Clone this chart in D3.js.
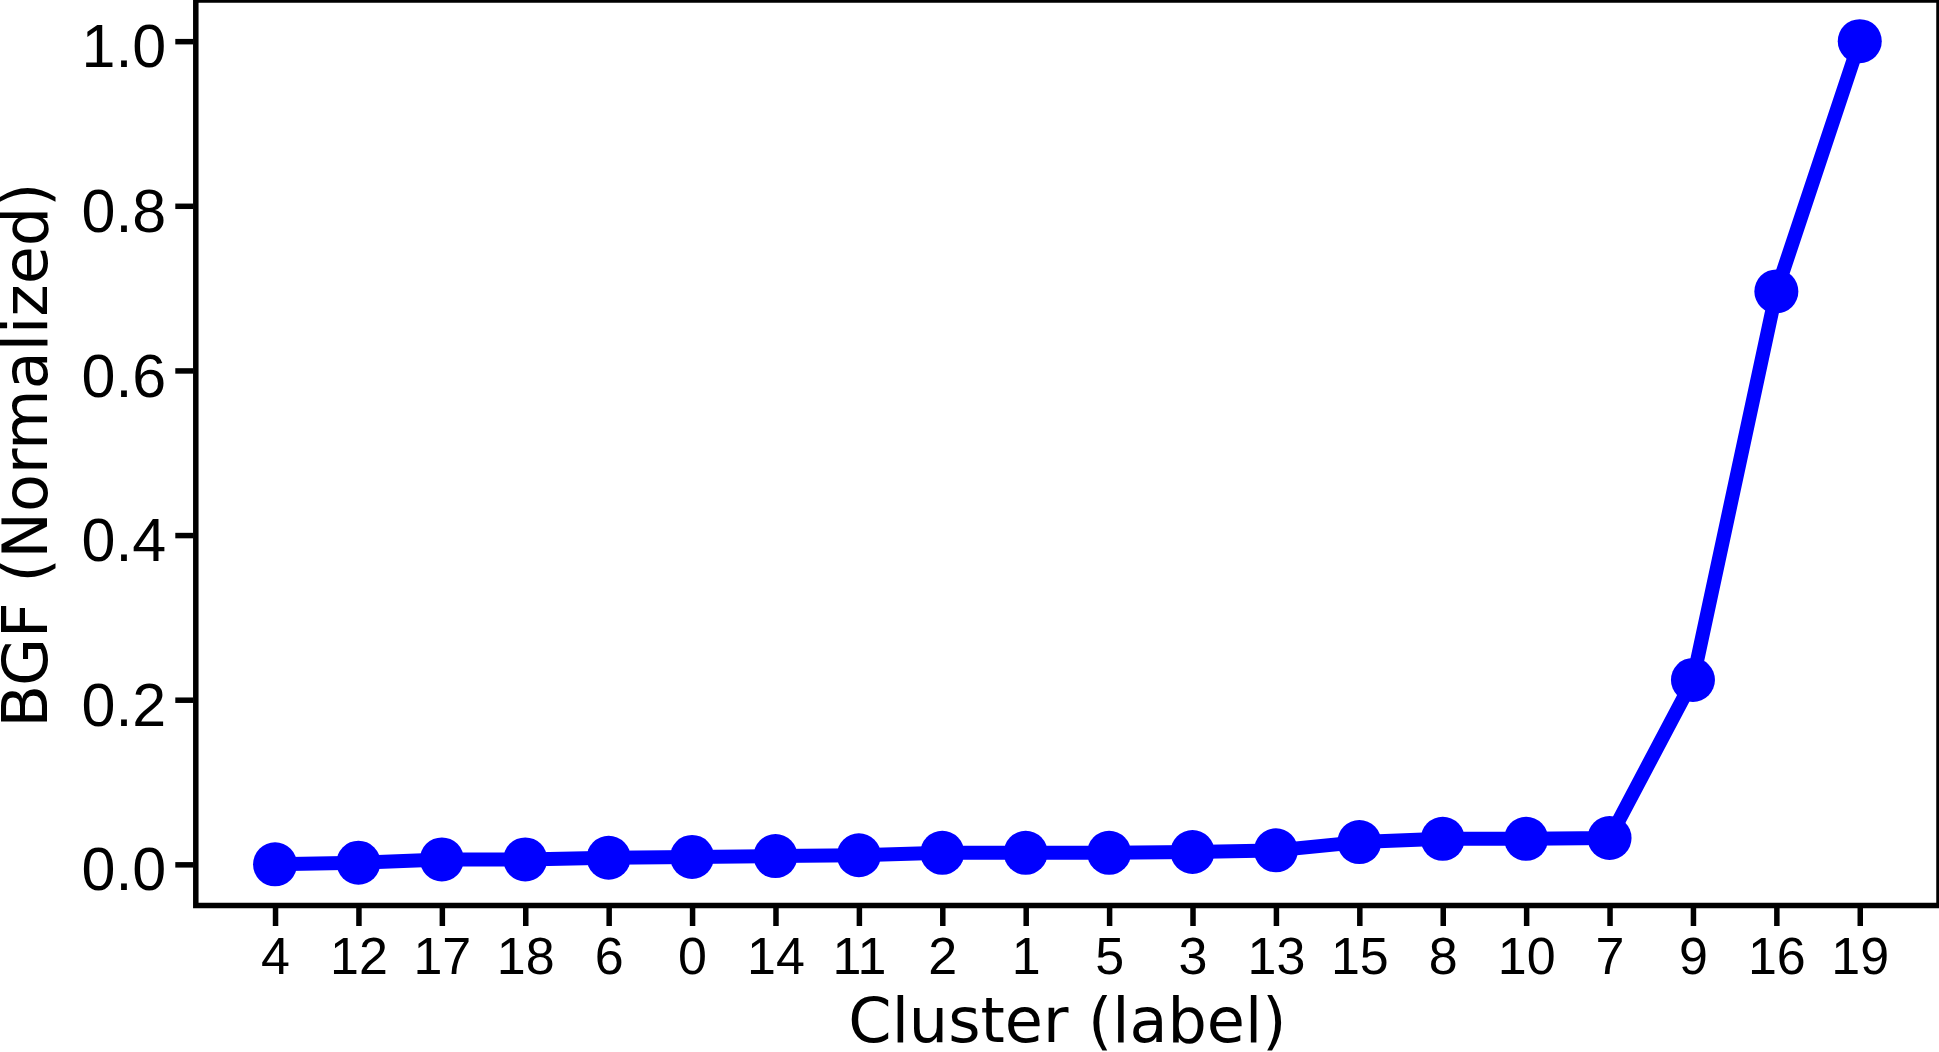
<!DOCTYPE html>
<html>
<head>
<meta charset="utf-8">
<script src="https://cdn.jsdelivr.net/npm/d3@7"></script>
<style>
  body { margin: 0; background: #fff; }
  svg { display: block; font-family: "DejaVu Sans", sans-serif; }
</style>
</head>
<body>
<svg width="1939" height="1052"></svg>
<script>
// cluster labels, in plotted order
var clusters = ["4", "12", "17", "18", "6", "0", "14", "11", "2", "1",
                "5", "3", "13", "15", "8", "10", "7", "9", "16", "19"];

// normalized BGF per cluster
var bgf = [0.000, 0.002, 0.006, 0.006, 0.008, 0.009, 0.010, 0.011, 0.014, 0.014,
           0.014, 0.015, 0.017, 0.027, 0.031, 0.031, 0.032, 0.224, 0.696, 1.000];

var yTicks = [0, 0.2, 0.4, 0.6, 0.8, 1.0];

var svg = d3.select("svg"),
    plotLeft = 195.8, plotRight = 1939, plotTop = 0, plotBottom = 905.5;

var x = d3.scalePoint()
    .domain(clusters)
    .range([plotLeft, plotRight])
    .padding(0.95);

var y = d3.scaleLinear()
    .domain([-0.05, 1.05])
    .range([plotBottom, plotTop]);

var data = clusters.map(function(c, i) { return {c: c, v: bgf[i]}; });

// y axis
var yAxis = d3.axisLeft(y)
    .tickValues(yTicks)
    .tickFormat(d3.format(".1f"))
    .tickSize(18)
    .tickPadding(9);

var gy = svg.append("g")
    .attr("transform", "translate(" + (plotLeft - 2.5) + ",0)")
    .call(yAxis);
gy.select(".domain").remove();
gy.selectAll(".tick line").attr("stroke", "#000").attr("stroke-width", 5.5);
gy.selectAll(".tick text")
    .attr("fill", "#000")
    .attr("dy", "0.42em")
    .style("font-size", "61px");

// x axis
var xAxis = d3.axisBottom(x)
    .tickSize(18)
    .tickPadding(11);

var gx = svg.append("g")
    .attr("transform", "translate(0," + (plotBottom + 2.5) + ")")
    .call(xAxis);
gx.select(".domain").remove();
gx.selectAll(".tick line").attr("stroke", "#000").attr("stroke-width", 5.5);
gx.selectAll(".tick text")
    .attr("fill", "#000")
    .style("font-size", "52px");

// line + markers
var line = d3.line()
    .x(function(d) { return x(d.c); })
    .y(function(d) { return y(d.v); });

svg.append("path")
    .datum(data)
    .attr("fill", "none")
    .attr("stroke", "#0000ff")
    .attr("stroke-width", 14)
    .attr("stroke-linejoin", "round")
    .attr("d", line);

svg.append("g")
  .selectAll("circle")
  .data(data)
  .enter().append("circle")
    .attr("cx", function(d) { return x(d.c); })
    .attr("cy", function(d) { return y(d.v); })
    .attr("r", 22)
    .attr("fill", "#0000ff");

// frame
svg.append("rect")
    .attr("x", plotLeft)
    .attr("y", plotTop)
    .attr("width", plotRight - plotLeft)
    .attr("height", plotBottom - plotTop)
    .attr("fill", "none")
    .attr("stroke", "#000")
    .attr("stroke-width", 5.5);

// axis labels
svg.append("text")
    .attr("x", (plotLeft + plotRight) / 2)
    .attr("y", 1042)
    .attr("text-anchor", "middle")
    .style("font-size", "62px")
    .text("Cluster (label)");

svg.append("text")
    .attr("transform", "translate(47,455) rotate(-90)")
    .attr("text-anchor", "middle")
    .style("font-size", "62px")
    .text("BGF (Normalized)");
</script>
</body>
</html>
